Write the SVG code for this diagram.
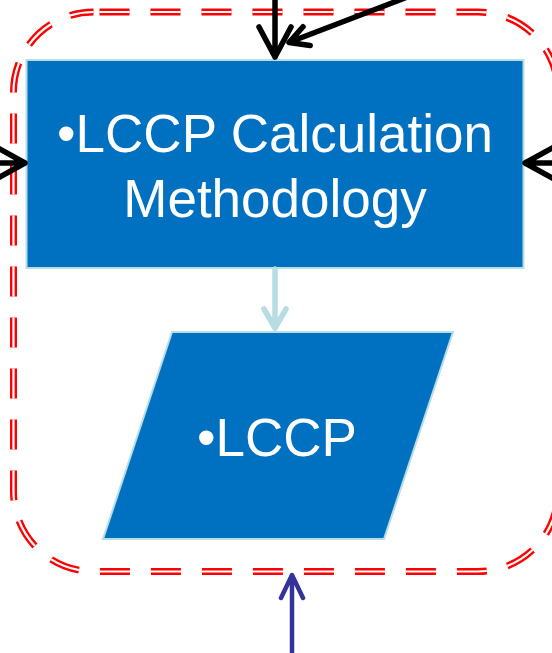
<svg xmlns="http://www.w3.org/2000/svg" width="552" height="653" viewBox="0 0 552 653">
<style>
.frame-red{fill:none;stroke:#FF0000;stroke-width:7;stroke-dasharray:30 21;stroke-dashoffset:-6}
.frame-white{fill:none;stroke:#FFFFFF;stroke-width:2.2;stroke-dasharray:30 21;stroke-dashoffset:-6}
.node{fill:#0070C0;stroke:#B7DDE6;stroke-width:2}
.label{font-family:"Liberation Sans",Arial,sans-serif;font-size:53px;fill:#FFFFFF;text-anchor:middle}
.blk{fill:none;stroke:#000000;stroke-width:5.5;stroke-linecap:round;stroke-linejoin:round}
.lb{fill:none;stroke:#B7DDE3;stroke-width:5.5;stroke-linecap:round;stroke-linejoin:round}
.pu{fill:none;stroke:#333399;stroke-width:4.5;stroke-linecap:round;stroke-linejoin:round}
</style>
<g id="boundary">
<rect class="frame-red" x="13.5" y="12" width="544.5" height="559.5" rx="80" ry="80"/>
<rect class="frame-white" x="13.5" y="12" width="544.5" height="559.5" rx="80" ry="80"/>
</g>
<g id="node-methodology">
<rect class="node" x="26.5" y="60" width="497" height="208"/>
<text class="label" x="275" y="152">•LCCP Calculation</text>
<text class="label" x="275" y="217">Methodology</text>
</g>
<g id="node-lccp">
<polygon class="node" points="172,332 453,332 384,539 103,539"/>
<text class="label" x="277" y="456">•LCCP</text>
</g>
<g id="connectors">
<path class="blk" d="M275,-5 L275,57 M259,27 L275,57 L291,27"/>
<path class="blk" d="M405,-2 L290,42 M303,26.7 L289,42.5 L310.2,45.5"/>
<path class="blk" d="M-10,163 L25,163 M-4,147 L25,163 L-4,179"/>
<path class="blk" d="M562,163 L525,163 M554,147 L525,163 L554,179"/>
<path class="lb" d="M275,269 L275,327 M264,309 L275,328 L286,309"/>
<path class="pu" d="M292,660 L292,576 M281,598 L292,575 L303,598"/>
</g>
</svg>
